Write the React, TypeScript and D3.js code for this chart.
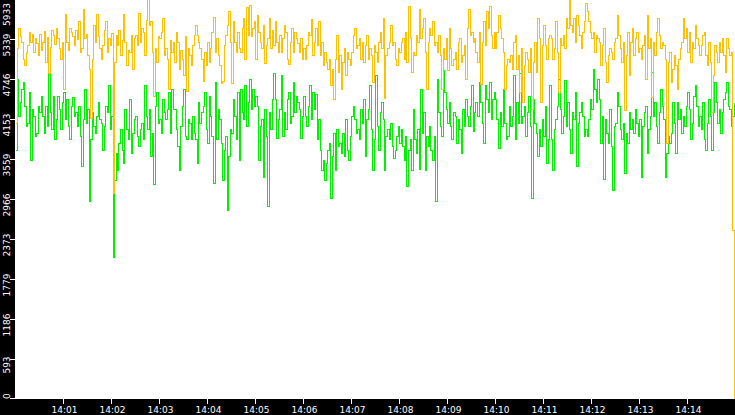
// Two throughput traces over a 15-minute window, step-drawn on a black-framed plot.

import * as d3 from "d3";

const Y_MAX = 5933;
const Y_TICKS = [0, 593, 1186, 1779, 2373, 2966, 3559, 4153, 4746, 5339, 5933];
const START = new Date(2024, 0, 1, 14, 0, 0);
const END = new Date(2024, 0, 1, 14, 15, 0);

// orange trace (upper)
const UPPER = [
  4100, 5200, 5500, 5380, 5300, 5050, 4950, 5150, 5250, 5450, 5300, 5420, 5150, 5350, 5280, 5100, 5420, 5180, 5300, 5460,
  5000, 5370, 4830, 5220, 5480, 5400, 5270, 5500, 5350, 5200, 5050, 5300, 4600, 5710, 5300, 5180, 5500, 5450, 5380, 5250,
  5480, 5340, 5600, 5150, 5200, 5785, 5350, 5420, 5100, 4900, 4170, 5050, 5550, 5300, 5710, 5380, 5200, 5040, 5250, 5480,
  5600, 5150, 5350, 5250, 5430, 3050, 5000, 5400, 5250, 5480, 5100, 5320, 5710, 5300, 4950, 5180, 5150, 5400, 4900, 5350,
  5400, 5250, 5730, 5300, 5500, 5450, 5100, 5620, 5933, 5550, 5600, 5150, 4490, 5200, 5000, 5380, 5350, 5450, 5650, 5100,
  5200, 5050, 4600, 5320, 5150, 5300, 5000, 5450, 5300, 4900, 5180, 5050, 4800, 5380, 4570, 5200, 5100, 4950, 5250, 5400,
  5550, 5400, 5300, 5200, 5050, 4720, 5150, 4950, 5300, 5000, 5200, 5450, 5670, 5150, 5350, 5100, 4950, 4680, 4720, 5250,
  5400, 5550, 5750, 5300, 4680, 5600, 5300, 5150, 5450, 5200, 5150, 5500, 5650, 5050, 5820, 5400, 5850, 5380, 5500, 5600,
  5050, 5700, 5450, 5300, 5200, 5550, 4990, 5250, 5350, 5650, 5200, 5480, 5250, 5600, 5300, 5150, 5400, 5150, 5350, 5550,
  5450, 5050, 4970, 5300, 5500, 5150, 5450, 5350, 5280, 5150, 5350, 5050, 5200, 5050, 5250, 5450, 5400, 5630, 5100, 5300,
  5500, 5250, 5600, 5100, 5300, 4950, 5150, 5000, 4900, 5050, 4650, 4900, 4450, 5050, 5400, 4850, 5100, 4600, 5000, 5200,
  4800, 5150, 5050, 4950, 5150, 5400, 5500, 5200, 5250, 5350, 5050, 5300, 5000, 5250, 5400, 5050, 5200, 5100, 4700, 5250,
  5150, 5000, 5300, 5450, 5200, 5650, 4470, 5100, 5200, 5300, 5550, 5250, 5300, 5050, 4950, 5200, 5150, 5300, 5350, 5050,
  5450, 5000, 5833, 5350, 4850, 5150, 5100, 5400, 5300, 5785, 5350, 5500, 5650, 5150, 4600, 5300, 5500, 5400, 5600, 5250,
  5300, 5150, 5400, 5100, 4600, 5200, 5050, 5350, 4880, 5500, 5200, 4950, 5050, 5150, 4900, 5300, 5350, 5000, 5100, 5250,
  4750, 5500, 5785, 5400, 5450, 5300, 5350, 5150, 5000, 5450, 4670, 5300, 5600, 5250, 5750, 5500, 5833, 5400, 5200, 5450,
  5200, 5450, 5700, 5500, 5350, 5150, 4600, 4950, 5050, 5000, 5100, 4900, 5300, 5400, 4900, 5100, 4550, 5200, 4400, 4950,
  5150, 5050, 4850, 5200, 4300, 5000, 5300, 4850, 5650, 5350, 4400, 5250, 5550, 5250, 5050, 5350, 5400, 5350, 5050, 5200,
  5600, 5150, 4550, 5350, 5250, 5400, 5200, 5650, 5500, 5933, 5550, 5450, 5650, 5300, 5700, 5550, 5400, 5200, 5450, 5600,
  5880, 5750, 5600, 5450, 5350, 5450, 5150, 5400, 5350, 5300, 4950, 5250, 5500, 5000, 4700, 5100, 5200, 5150, 5050, 5300,
  5350, 5700, 5400, 5200, 5000, 5300, 4290, 5100, 5450, 4800, 5300, 5500, 5100, 5350, 5450, 5150, 5200, 5050, 5250, 5400,
  4750, 5700, 5200, 5350, 4480, 5300, 5100, 5450, 5650, 5400, 5200, 5300, 5250, 5050, 3800, 5000, 5150, 4700, 4900, 5100,
  4950, 4600, 5050, 5200, 5300, 5650, 5350, 5500, 5150, 5450, 5000, 5300, 5200, 5550, 5350, 5250, 5100, 5250, 5400, 5450,
  5100, 4950, 5300, 5000, 4250, 4800, 5250, 5150, 5000, 5300, 5150, 5350, 5100, 4850, 5350, 5200, 5100, 5150, 2500, 0,
];

// green trace (lower)
const LOWER = [
  3700, 4750, 4200, 4400, 4600, 4700, 4350, 4050, 4100, 4550, 3550, 4300, 4200, 3900, 3950, 4350, 4250, 4500, 4200, 3950,
  4350, 4050, 4830, 4250, 4000, 4500, 3850, 4150, 4500, 4300, 4000, 4400, 4550, 4150, 4450, 4050, 3860, 4350, 4480, 4200,
  4250, 4050, 4350, 3900, 3460, 4150, 4600, 4100, 4300, 2930, 3850, 4250, 4050, 3950, 4200, 4400, 4150, 4100, 3700, 4050,
  4350, 4250, 4650, 4000, 4200, 2110, 3250, 3650, 3400, 3800, 4000, 3700, 3500, 4300, 4000, 3850, 4450, 3650, 3950, 4150,
  4200, 3900, 3750, 4000, 4100, 3850, 4660, 4200, 4000, 4300, 3600, 3950, 3190, 4350, 4550, 4100, 4150, 3950, 4450, 4250,
  4150, 4300, 4550, 3950, 4600, 4300, 4300, 4000, 3750, 3400, 4050, 4350, 4600, 3900, 3850, 4150, 4100, 3850, 4200, 3950,
  3850, 3500, 4400, 4100, 4250, 4350, 4550, 4000, 3800, 4500, 4200, 3900, 3200, 4700, 3850, 4300, 4150, 3800, 3250, 3700,
  3900, 2810, 3600, 4000, 3950, 4450, 4200, 3850, 4550, 3550, 4600, 4250, 4150, 4650, 4050, 4400, 4750, 4300, 4600, 4350,
  4500, 4350, 3550, 4050, 4150, 3300, 4300, 3900, 2860, 4250, 4000, 4450, 4830, 4450, 3870, 4150, 4300, 4800, 3900, 4250,
  4000, 4450, 4550, 4100, 4200, 4700, 4250, 4500, 4400, 4300, 3870, 4200, 4500, 4200, 4050, 4350, 4650, 4150, 4560, 4300,
  4520, 3850, 4150, 3700, 3400, 3550, 3250, 3500, 3700, 3800, 2980, 3600, 3950, 3400, 4000, 3750, 3800, 3650, 3950, 3600,
  4150, 3700, 3550, 3900, 4200, 4350, 4150, 3950, 4000, 3850, 4300, 4100, 4450, 3600, 4150, 4300, 4650, 4000, 3400, 3850,
  4800, 4050, 3700, 4250, 4400, 4150, 3400, 3900, 4000, 3850, 4100, 3750, 3580, 3700, 3900, 4050, 3800, 4000, 3750, 3550,
  3900, 3160, 3700, 3850, 3400, 4300, 3850, 3650, 4000, 3410, 4600, 3950, 4250, 3400, 3900, 3750, 4050, 3700, 3550, 3900,
  2930, 4750, 4250, 4050, 3900, 4880, 4550, 4300, 4100, 4400, 4050, 3850, 4250, 4200, 3800, 4150, 4000, 3650, 4300, 4050,
  4450, 4200, 4050, 4350, 4650, 3980, 4250, 4400, 4200, 4700, 4400, 4100, 3800, 4650, 4450, 4250, 4700, 4150, 4450, 4550,
  4450, 4150, 3730, 4250, 4050, 4600, 4100, 3850, 3900, 4350, 4050, 4200, 4800, 3850, 4400, 4100, 4830, 4100, 4200, 4350,
  3900, 4250, 4500, 4050, 2980, 4450, 4100, 3950, 3600, 4000, 3750, 4150, 3900, 4350, 3500, 3850, 4650, 3850, 3400, 4000,
  4150, 4350, 4750, 4300, 3950, 4200, 4730, 4050, 4400, 4000, 3650, 4250, 4150, 4550, 3450, 4100, 4250, 4400, 4200, 3900,
  4000, 3900, 4150, 4450, 4300, 4900, 4600, 4400, 4750, 4450, 3800, 4200, 3260, 4150, 3950, 3800, 4300, 3750, 3100, 4050,
  4100, 4550, 4350, 4000, 3850, 4100, 3350, 3950, 3800, 4250, 4000, 4150, 3950, 4300, 4100, 3900, 4150, 3300, 4050, 4250,
  4350, 3650, 4000, 4200, 4850, 4200, 4400, 4050, 3800, 4250, 4600, 4350, 4150, 3300, 3650, 3900, 3800, 3950, 4400, 4100,
  3650, 4400, 4150, 4300, 3950, 4200, 4050, 4350, 4550, 4300, 3850, 4100, 4500, 4650, 4350, 4050, 4200, 4000, 4400, 3850,
  3700, 4100, 4450, 4200, 3700, 4250, 4700, 4400, 4100, 4300, 3950, 4250, 4450, 4550, 4700, 4350, 4300, 4050, 4200, 4400,
];

const W = 735, H = 415, LEFT = 15, BOTTOM = 399;
const FONT = "'DejaVu Sans', sans-serif";

export default function App() {
  const x = d3.scaleTime().domain([START, END]).range([LEFT, W]);
  const y = d3.scaleLinear().domain([0, Y_MAX]).range([BOTTOM, -1]);
  const span = END.getTime() - START.getTime();
  const at = (i: number, n: number) => new Date(START.getTime() + (i * span) / n);
  const lineFor = (vals: number[]) =>
    d3.line<number>()
      .x((_, i) => Math.round(x(at(i, vals.length))) + 0.5)
      .y((v) => Math.round(y(v)) + 0.5)
      .curve(d3.curveStepAfter)(vals) ?? "";

  const xTicks = x.ticks(d3.timeMinute.every(1)!).filter((d) => d > START && d < END);
  const fmt = d3.timeFormat("%H:%M");

  return (
    <svg width={W} height={H} style={{ position: "absolute", left: 0, top: 0, display: "block" }}
         fontFamily={FONT}>
      <defs>
        <clipPath id="plot">
          <rect x={LEFT} y={0} width={W - LEFT} height={BOTTOM} />
        </clipPath>
      </defs>
      <rect x={0} y={0} width={W} height={H} fill="#fff" />
      <g clipPath="url(#plot)" fill="none" strokeWidth={1} shapeRendering="crispEdges">
        <path d={lineFor(LOWER)} stroke="#00f000" />
        <path d={lineFor(UPPER)} stroke="#ffc000" />
      </g>

      {/* frame */}
      <rect x={0} y={0} width={LEFT} height={H} fill="#000" />
      <rect x={0} y={BOTTOM} width={W} height={H - BOTTOM} fill="#000" />

      {/* y axis */}
      {Y_TICKS.map((v) => {
        const py = Math.min(Math.round(y(v)), BOTTOM - 1);
        const label = String(v);
        const half = (label.length * 5.73) / 2;
        const mid = Math.max(3 + half, Math.min(py + 6, BOTTOM - half));
        return (
          <g key={v}>
            <line x1={10} x2={LEFT} y1={py + 0.5} y2={py + 0.5} stroke="#fff" shapeRendering="crispEdges" />
            <text transform={`translate(10,${mid}) rotate(-90)`} textAnchor="middle"
                  fontSize={9} fill="#fff">{label}</text>
          </g>
        );
      })}

      {/* x axis */}
      {xTicks.map((d) => {
        const px = Math.round(x(d));
        return (
          <g key={+d}>
            <line x1={px + 0.5} x2={px + 0.5} y1={BOTTOM} y2={BOTTOM + 5} stroke="#fff" shapeRendering="crispEdges" />
            <text x={px + 1.5} y={413} textAnchor="middle" fontSize={9} fill="#fff">{fmt(d)}</text>
          </g>
        );
      })}
    </svg>
  );
}
